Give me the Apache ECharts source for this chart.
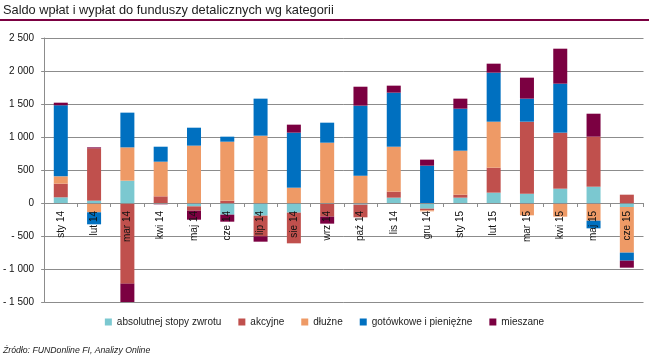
<!DOCTYPE html>
<html>
<head>
<meta charset="utf-8">
<script src="https://cdn.jsdelivr.net/npm/echarts@6/dist/echarts.min.js"></script>
<style>
html,body{margin:0;padding:0;background:#fff;}
#chart{width:649px;height:357px;}
</style>
</head>
<body>
<div id="chart"></div>
<script>
var categories = ['sty 14','lut 14','mar 14','kwi 14','maj 14','cze 14','lip 14','sie 14','wrz 14','paź 14','lis 14','gru 14','sty 15','lut 15','mar 15','kwi 15','maj 15','cze 15'];
var absolutnej = [86, 35, 338, 0, -51, -177, -192, -146, 0, -25, 81, -86, 81, 157, 141, 217, 247, -61];
var akcyjne = [207, 793, -1222, 101, -65, 35, -313, -465, -207, -192, 91, -25, 45, 378, 1091, 849, 758, 126];
var dluzne = [111, -141, 505, 525, 869, 894, 1020, 232, 914, 414, 681, -15, 667, 697, -187, -207, -268, -691];
var gotowkowe = [1076, -182, 526, 227, 272, 76, 561, 834, 303, 1061, 819, 566, 636, 743, 349, 742, -116, -122];
var mieszane = [40, 15, -280, -20, -137, -106, -81, 121, -106, 287, 106, 91, 152, 136, 318, 530, 348, -106];
var seriesNames = ['absolutnej stopy zwrotu', 'akcyjne', 'dłużne', 'gotówkowe i pieniężne', 'mieszane'];
var yMin = -1500, yMax = 2500, yStep = 500;

var FONT = "'Liberation Sans', Arial, sans-serif";
var colors = ['#7BC8D0', '#C0504D', '#EE9A66', '#0070C0', '#7B0041'];
var dataSets = [absolutnej, akcyjne, dluzne, gotowkowe, mieszane];

var GRID_TOP = 38, GRID_BOTTOM = 55, H = 357;
var plotH = H - GRID_TOP - GRID_BOTTOM;
var zeroOffset = -plotH * (0 - yMin) / (yMax - yMin);

function fmt(v){
  var s = Math.abs(v).toString();
  s = s.replace(/\B(?=(\d{3})+(?!\d))/g, ' ');
  return (v < 0 ? '- ' : '') + s;
}

var chart = echarts.init(document.getElementById('chart'), null, {renderer:'canvas'});
var option = {
  animation: false,
  backgroundColor: '#fff',
  color: colors,
  title: [
    {text: 'Saldo wpłat i wypłat do funduszy detalicznych wg kategorii', left: 3, top: 4, padding: 0,
     textStyle: {fontFamily: FONT, fontSize: 12.8, fontWeight: 'normal', color: '#222'}},
    {text: 'Źródło: FUNDonline FI, Analizy Online', left: 3, top: 346, padding: 0,
     textStyle: {fontFamily: FONT, fontSize: 8.7, fontWeight: 'normal', fontStyle: 'italic', color: '#222'}}
  ],
  graphic: [
    {type: 'line', shape: {x1: 0, y1: 20, x2: 649, y2: 20}, style: {stroke: '#7B0041', lineWidth: 2}}
  ],
  legend: {
    data: seriesNames,
    left: 'center', top: 312,
    itemWidth: 7, itemHeight: 7, itemGap: 17,
    icon: 'rect',
    textStyle: {fontFamily: FONT, fontSize: 10, color: '#222'}
  },
  grid: {left: 43, right: 5.5, top: GRID_TOP, bottom: GRID_BOTTOM, containLabel: false},
  xAxis: {
    type: 'category', data: categories, position: 'bottom', offset: zeroOffset, z: 10,
    axisLine: {onZero: true, lineStyle: {color: '#8c8c8c', width: 1}},
    axisTick: {show: true, length: 4, lineStyle: {color: '#8c8c8c'}},
    axisLabel: {rotate: 90, interval: 0, margin: 8, fontFamily: FONT, fontSize: 10, color: '#111'},
    splitLine: {show: false}
  },
  yAxis: {
    type: 'value', min: yMin, max: yMax, interval: yStep,
    axisLine: {show: true, lineStyle: {color: '#8c8c8c', width: 1}},
    axisTick: {show: true, length: 3, lineStyle: {color: '#8c8c8c'}},
    axisLabel: {margin: 10, fontFamily: FONT, fontSize: 10, color: '#111', formatter: fmt},
    splitLine: {show: true, lineStyle: {color: '#8c8c8c', width: 1}}
  },
  series: seriesNames.map(function(n, i){
    return {name: n, type: 'bar', stack: 'total', barWidth: 14, data: dataSets[i]};
  })
};
chart.setOption(option);
</script>
</body>
</html>
